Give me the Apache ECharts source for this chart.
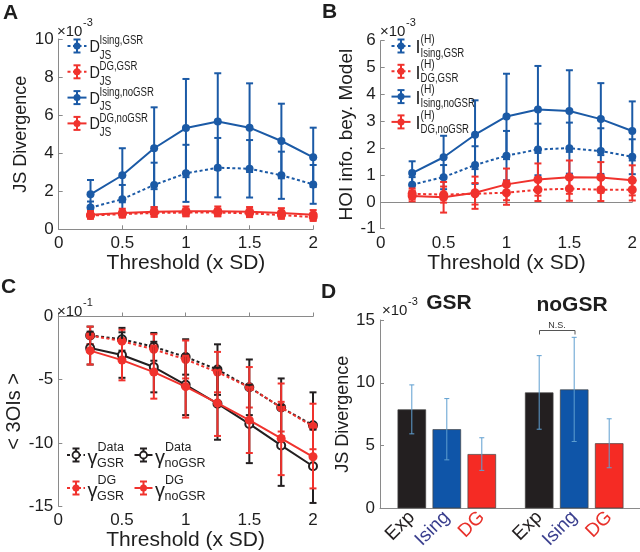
<!DOCTYPE html>
<html><head><meta charset="utf-8">
<script src="https://cdn.jsdelivr.net/npm/echarts@6/dist/echarts.min.js"></script>
<style>html,body{margin:0;padding:0;background:#fff}#c{width:640px;height:552px}</style>
</head><body><div id="c"></div>
<script>
// ---------------- data ----------------
const thresholds = [0.25, 0.5, 0.75, 1, 1.25, 1.5, 1.75, 2];

// Panel A: JS divergence (x10^-3)
const aIsingGSR      = [1.14, 1.58, 2.33, 2.94, 3.24, 3.18, 2.84, 2.36];
const aIsingGSRErr   = [0.32, 0.75, 1.17, 1.50, 1.56, 1.51, 1.24, 1.02];
const aDGGSR         = [0.72, 0.80, 0.86, 0.88, 0.88, 0.84, 0.75, 0.64];
const aDGGSRErr      = [0.15, 0.18, 0.20, 0.20, 0.20, 0.20, 0.20, 0.20];
const aIsingNoGSR    = [1.84, 2.84, 4.26, 5.32, 5.66, 5.34, 4.64, 3.78];
const aIsingNoGSRErr = [0.75, 1.42, 2.15, 2.58, 2.54, 2.33, 1.96, 1.56];
const aDGNoGSR       = [0.76, 0.86, 0.92, 0.95, 0.95, 0.92, 0.86, 0.76];
const aDGNoGSRErr    = [0.20, 0.22, 0.25, 0.25, 0.25, 0.25, 0.25, 0.25];

// Panel B: HOI info beyond model (x10^-3)
const bIsingGSR      = [0.64, 0.92, 1.37, 1.72, 1.95, 2.00, 1.89, 1.68];
const bIsingGSRErr   = [0.28, 0.45, 0.70, 0.92, 0.96, 0.95, 0.85, 0.65];
const bDGGSR         = [0.30, 0.27, 0.30, 0.34, 0.45, 0.49, 0.45, 0.45];
const bDGGSRErr      = [0.20, 0.30, 0.40, 0.45, 0.42, 0.45, 0.42, 0.40];
const bIsingNoGSR    = [1.07, 1.66, 2.50, 3.18, 3.44, 3.38, 3.08, 2.64];
const bIsingNoGSRErr = [0.44, 0.80, 1.28, 1.59, 1.62, 1.52, 1.34, 1.10];
const bDGNoGSR       = [0.22, 0.17, 0.34, 0.65, 0.83, 0.92, 0.91, 0.80];
const bDGNoGSRErr    = [0.20, 0.57, 0.60, 0.59, 0.60, 0.62, 0.57, 0.56];

// Panel C: <3OIs> (x10^-1)
const cDataGSR       = [-1.5, -1.8, -2.4, -3.2, -4.2, -5.6, -7.2, -8.6];
const cDataGSRErr    = [0.7, 0.9, 1.1, 1.4, 2.0, 2.2, 2.3, 2.6];
const cDGGSR         = [-1.5, -1.95, -2.6, -3.4, -4.4, -5.6, -7.2, -8.7];
const cDGGSRErr      = [0.7, 0.9, 1.2, 1.5, 1.6, 1.6, 1.9, 1.8];
const cDataNoGSR     = [-2.5, -3.05, -4.0, -5.4, -6.9, -8.5, -10.2, -11.85];
const cDataNoGSRErr  = [1.3, 1.8, 2.0, 2.4, 2.85, 3.1, 3.2, 2.9];
const cDGNoGSR       = [-2.7, -3.45, -4.4, -5.55, -6.85, -8.2, -9.65, -11.1];
const cDGNoGSRErr    = [1.1, 1.6, 2.1, 2.45, 2.6, 2.6, 2.9, 2.5];

// Panel D: JS divergence bars (x10^-3)
const dCategories = ['Exp', 'Ising', 'DG'];
const dGSR       = [7.88, 6.30, 4.32];
const dGSRErr    = [1.95, 2.44, 1.30];
const dNoGSR     = [9.23, 9.47, 5.18];
const dNoGSRErr  = [2.93, 4.15, 1.95];

// ---------------- styles ----------------
const FONT = 'Liberation Sans, Arial, Helvetica, sans-serif';
const BLUE = '#1b5aa6', RED = '#f0322d', BLACK = '#231f20';
const BAR_COLORS = ['#231f20', '#0f55a8', '#f52b24'];
const LABEL_COLORS = {Exp: '#231f20', Ising: '#3a3f8e', DG: '#e8302a'};
const AXIS_GRAY = '#8a8a8a';

const chart = echarts.init(document.getElementById('c'), null, {renderer: 'canvas'});

function pairs(xs, ys, es) { return xs.map((x, i) => es ? [x, ys[i], es[i]] : [x, ys[i]]); }

function errSeries(ax, xs, ys, es, color, capW, lw, z) {
  return {
    type: 'custom', xAxisIndex: ax, yAxisIndex: ax, z: z, silent: true,
    data: pairs(xs, ys, es),
    encode: {x: 0, y: [1]},
    renderItem: function (params, api) {
      const x = api.value(0), y = api.value(1), e = api.value(2);
      const t = api.coord([x, y + e]), b = api.coord([x, y - e]);
      const h = capW / 2, st = {stroke: color, lineWidth: lw};
      return {type: 'group', children: [
        {type: 'line', shape: {x1: t[0], y1: t[1], x2: b[0], y2: b[1]}, style: st},
        {type: 'line', shape: {x1: t[0] - h, y1: t[1], x2: t[0] + h, y2: t[1]}, style: st},
        {type: 'line', shape: {x1: b[0] - h, y1: b[1], x2: b[0] + h, y2: b[1]}, style: st}
      ]};
    }
  };
}
function lineSeries(ax, ys, color, dashed, symbol, size, z, fill) {
  return {
    type: 'line', xAxisIndex: ax, yAxisIndex: ax, z: z, silent: true,
    data: pairs(thresholds, ys),
    symbol: symbol, symbolSize: size, showSymbol: true,
    lineStyle: {color: color, width: 2, type: dashed ? [3, 2.5] : 'solid'},
    itemStyle: {color: fill || color, borderColor: color, borderWidth: symbol === 'emptyCircle' ? 2 : 0},
    animation: false
  };
}
function pair(ax, ys, es, color, dashed, symbol, size, z, fill) {
  return [errSeries(ax, thresholds, ys, es, color, 7, 2, z), lineSeries(ax, ys, color, dashed, symbol, size, z + 1, fill)];
}

const axisLine = {show: true, lineStyle: {color: AXIS_GRAY, width: 1}};
const axisTick = {show: true, inside: true, length: 4, lineStyle: {color: AXIS_GRAY}};
const tickFont = {color: '#1e1e1e', fontSize: 17, fontFamily: FONT};

function thrAxis(g) {
  return {type: 'value', gridIndex: g, min: 0, max: 2, interval: 0.5,
    axisLine: axisLine, axisTick: axisTick, splitLine: {show: false},
    axisLabel: Object.assign({margin: 6}, tickFont),
    name: 'Threshold (x SD)', nameLocation: 'middle', nameGap: 16,
    nameTextStyle: {fontSize: 21, color: '#1e1e1e', fontFamily: FONT}};
}
function valAxis(g, min, max, iv, name, gap, size) {
  return {type: 'value', gridIndex: g, min: min, max: max, interval: iv,
    axisLine: axisLine, axisTick: axisTick, splitLine: {show: false},
    axisLabel: Object.assign({margin: 5}, tickFont),
    name: name, nameLocation: 'middle', nameGap: gap,
    nameTextStyle: {fontSize: size, color: '#1e1e1e', fontFamily: FONT}};
}
function hiddenY(g) {
  return {type: 'value', gridIndex: g, min: 0, max: 15, show: false, splitLine: {show: false}};
}
function catAxis(g) {
  return {type: 'category', gridIndex: g, data: dCategories,
    axisLine: {show: false}, axisTick: {show: false}, splitLine: {show: false},
    axisLabel: {rotate: 45, margin: 6, fontSize: 19, fontFamily: FONT,
      formatter: v => '{' + v + '|' + v + '}',
      rich: {Exp: {color: LABEL_COLORS.Exp, fontSize: 19, fontFamily: FONT},
             Ising: {color: LABEL_COLORS.Ising, fontSize: 19, fontFamily: FONT},
             DG: {color: LABEL_COLORS.DG, fontSize: 19, fontFamily: FONT}}}};
}
function barSeries(g, vals) {
  return {type: 'bar', xAxisIndex: g, yAxisIndex: g, barWidth: 28.5, z: 2, silent: true,
    data: vals.map((v, i) => ({value: v, itemStyle: {color: BAR_COLORS[i]}})),
    itemStyle: {borderColor: '#444', borderWidth: 0.7}, animation: false};
}
function barErr(g, vals, errs) {
  return errSeries(g, [0, 1, 2], vals, errs, '#5f9fd0', 5, 1, 5);
}

// ------------- graphic annotations (legends, labels) -------------
function T(x, y, text, size, o) {
  o = o || {};
  return {type: 'text', x: x, y: y, silent: true, z: 100, scaleX: o.sx || 1,
    style: {text: text, fontSize: size, fontFamily: FONT, fill: o.fill || '#1e1e1e',
      fontWeight: o.bold ? 'bold' : 'normal', align: o.align || 'left', verticalAlign: 'middle'}};
}
function legendSymbol(x0, y, w, color, dashed, open) {
  const cx = x0 + w / 2, st = {stroke: color, lineWidth: 2};
  const els = [
    {type: 'line', shape: {x1: x0, y1: y, x2: x0 + w, y2: y}, style: {stroke: color, lineWidth: 2, lineDash: dashed ? [3, 2.5] : null}},
    {type: 'line', shape: {x1: cx, y1: y - 6.5, x2: cx, y2: y + 6.5}, style: st},
    {type: 'line', shape: {x1: cx - 3.5, y1: y - 6.5, x2: cx + 3.5, y2: y - 6.5}, style: st},
    {type: 'line', shape: {x1: cx - 3.5, y1: y + 6.5, x2: cx + 3.5, y2: y + 6.5}, style: st},
    {type: 'circle', shape: {cx: cx, cy: y, r: 3.5}, style: open ? {fill: '#fff', stroke: color, lineWidth: 1.8} : {fill: color}}
  ];
  return els.map(e => Object.assign(e, {silent: true, z: 100}));
}
const graphics = [];
// panel letters
graphics.push(T(3, 13.5, 'A', 21, {bold: true}), T(322, 12.5, 'B', 21, {bold: true}),
  T(1, 287.5, 'C', 21, {bold: true}), T(321, 292, 'D', 21, {bold: true}));
// exponent labels
[[57, 32, '-3'], [380, 32, '-3'], [57, 311.5, '-1'], [382, 311, '-3']].forEach(p => {
  graphics.push(T(p[0], p[1], '×10', 15), T(p[0] + 26, p[1] - 9, p[2], 11));
});
// D titles + N.S. bracket
graphics.push(T(449, 303.5, 'GSR', 21, {bold: true, align: 'center'}),
  T(572, 305, 'noGSR', 21, {bold: true, align: 'center'}),
  {type: 'polyline', silent: true, z: 100, shape: {points: [[539.5, 334.5], [539.5, 330.5], [575, 330.5], [575, 334.5]]}, style: {stroke: '#555', lineWidth: 1, fill: null}},
  T(557, 325.5, 'N.S.', 9, {align: 'center', fill: '#333'}));
// legend A
const legA = [['Ising,GSR', BLUE, true], ['DG,GSR', RED, true], ['Ising,noGSR', BLUE, false], ['DG,noGSR', RED, false]];
legA.forEach((e, i) => {
  const y = 46 + 25.8 * i;
  graphics.push(...legendSymbol(67.5, y, 19, e[1], e[2], false));
  graphics.push(T(89.5, y + 1.5, 'D', 16, {sx: 0.9}), T(99.5, y - 5, e[0], 12, {sx: 0.8}), T(99.5, y + 9.5, 'JS', 12, {sx: 0.85}));
});
// legend B
const legB = [['Ising,GSR', BLUE, true], ['DG,GSR', RED, true], ['Ising,noGSR', BLUE, false], ['DG,noGSR', RED, false]];
legB.forEach((e, i) => {
  const y = 46 + 25.3 * i;
  graphics.push(...legendSymbol(391.5, y, 19, e[1], e[2], false));
  graphics.push(T(415.5, y + 2.5, 'I', 18), T(420.5, y - 6.5, '(H)', 12, {sx: 0.85}), T(420.5, y + 7.5, e[0], 12, {sx: 0.8}));
});
// legend C
const legC = [[67, 455, 'Data', 'GSR', BLACK, true, true], [134.5, 455, 'Data', 'noGSR', BLACK, false, true],
              [67, 488, 'DG', 'GSR', RED, true, false], [134.5, 488, 'DG', 'noGSR', RED, false, false]];
legC.forEach(e => {
  graphics.push(...legendSymbol(e[0], e[1], 18, e[4], e[5], e[6]));
  graphics.push(T(e[0] + 20.5, e[1] + 3, 'γ', 20), T(e[0] + 30.5, e[1] - 7.5, e[2], 12.5), T(e[0] + 30, e[1] + 8.5, e[3], 12.5));
});

const option = {
  animation: false,
  backgroundColor: '#ffffff',
  grid: [
    {left: 58.7, top: 39, width: 254.5, height: 190.3},
    {left: 380.7, top: 40.7, width: 253.3, height: 188},
    {left: 58.3, top: 316.5, width: 254.7, height: 191},
    {left: 380, top: 320, width: 260, height: 188.3},
    {left: 394.3, top: 320, width: 105, height: 188.3},
    {left: 521.7, top: 320, width: 105, height: 188.3}
  ],
  xAxis: [
    thrAxis(0), thrAxis(1), thrAxis(2),
    {type: 'value', gridIndex: 3, min: 0, max: 1, axisLine: axisLine, axisTick: {show: false}, axisLabel: {show: false}, splitLine: {show: false}},
    catAxis(4), catAxis(5)
  ],
  yAxis: [
    valAxis(0, 0, 10, 2, 'JS Divergence', 29, 18),
    valAxis(1, -1, 6, 1, 'HOI info. bey. Model', 14, 19),
    valAxis(2, -15, 0, 5, '< 3OIs >', 28, 20),
    valAxis(3, 0, 15, 5, 'JS Divergence', 23, 18),
    hiddenY(4), hiddenY(5)
  ],
  series: [].concat(
    pair(0, aIsingGSR, aIsingGSRErr, BLUE, true, 'circle', 8, 10),
    pair(0, aDGGSR, aDGGSRErr, RED, true, 'circle', 9, 12),
    pair(0, aIsingNoGSR, aIsingNoGSRErr, BLUE, false, 'circle', 8, 14),
    pair(0, aDGNoGSR, aDGNoGSRErr, RED, false, 'circle', 9, 16),
    pair(1, bIsingGSR, bIsingGSRErr, BLUE, true, 'circle', 8, 10),
    pair(1, bDGGSR, bDGGSRErr, RED, true, 'circle', 9, 12),
    pair(1, bIsingNoGSR, bIsingNoGSRErr, BLUE, false, 'circle', 8, 14),
    pair(1, bDGNoGSR, bDGNoGSRErr, RED, false, 'circle', 9, 16),
    pair(2, cDataGSR, cDataGSRErr, BLACK, true, 'emptyCircle', 8, 10),
    pair(2, cDGGSR, cDGGSRErr, RED, true, 'circle', 9, 12),
    pair(2, cDataNoGSR, cDataNoGSRErr, BLACK, false, 'emptyCircle', 8, 14),
    pair(2, cDGNoGSR, cDGNoGSRErr, RED, false, 'circle', 9, 16),
    [barSeries(4, dGSR), barErr(4, dGSR, dGSRErr), barSeries(5, dNoGSR), barErr(5, dNoGSR, dNoGSRErr)]
  ),
  graphic: graphics
};
chart.setOption(option);
</script></body></html>
